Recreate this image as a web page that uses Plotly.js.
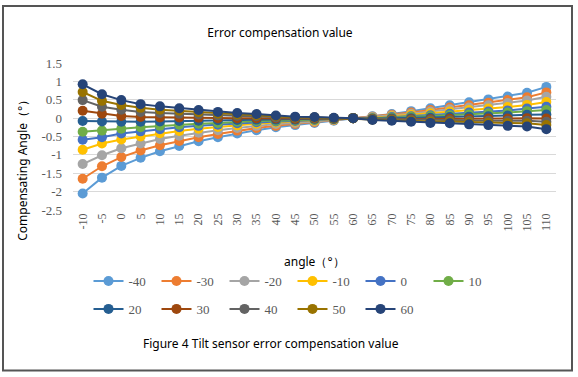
<!DOCTYPE html>
<html>
<head>
<meta charset="utf-8">
<script src="https://cdn.plot.ly/plotly-3.0.1.min.js"></script>
<style>html,body{margin:0;padding:0;background:#fff;}#chart{width:578px;height:377px;}</style>
</head>
<body>
<div id="chart"></div>
<script>
const angles = ["-10","-5","0","5","10","15","20","25","30","35","40","45","50","55","60","65","70","75","80","85","90","95","100","105","110"];
const seriesNames = ["-40","-30","-20","-10","0","10","20","30","40","50","60"];
const sM40 = [-2.05,-1.62,-1.30,-1.08,-0.90,-0.76,-0.63,-0.52,-0.42,-0.33,-0.25,-0.19,-0.13,-0.07,0,0.05,0.11,0.19,0.27,0.35,0.43,0.51,0.59,0.69,0.85];
const sM30 = [-1.65,-1.31,-1.06,-0.88,-0.74,-0.62,-0.52,-0.43,-0.34,-0.27,-0.21,-0.16,-0.11,-0.06,0,0.04,0.09,0.15,0.22,0.29,0.35,0.42,0.49,0.57,0.70];
const sM20 = [-1.25,-1.01,-0.82,-0.69,-0.57,-0.48,-0.40,-0.33,-0.27,-0.21,-0.16,-0.13,-0.09,-0.05,0,0.03,0.07,0.12,0.18,0.24,0.29,0.35,0.41,0.48,0.58];
const sM10 = [-0.86,-0.69,-0.58,-0.50,-0.41,-0.35,-0.29,-0.24,-0.20,-0.15,-0.12,-0.10,-0.07,-0.04,0,0.01,0.05,0.09,0.13,0.18,0.22,0.26,0.30,0.36,0.44];
const s0 = [-0.59,-0.52,-0.42,-0.36,-0.30,-0.25,-0.21,-0.18,-0.14,-0.11,-0.09,-0.08,-0.05,-0.03,0,0.00,0.03,0.05,0.08,0.12,0.15,0.18,0.21,0.26,0.31];
const s10 = [-0.37,-0.34,-0.29,-0.25,-0.21,-0.18,-0.15,-0.13,-0.10,-0.08,-0.07,-0.06,-0.04,-0.02,0,-0.01,0.01,0.03,0.05,0.08,0.10,0.13,0.15,0.19,0.22];
const s20 = [-0.08,-0.09,-0.10,-0.10,-0.09,-0.08,-0.07,-0.06,-0.05,-0.04,-0.04,-0.04,-0.02,-0.02,0,-0.02,-0.01,0.00,0.01,0.03,0.04,0.05,0.07,0.09,0.10];
const s30 = [0.20,0.12,0.06,0.03,0.02,0.02,0.01,0.00,0.00,0.00,-0.01,-0.02,-0.01,-0.01,0,-0.03,-0.03,-0.03,-0.03,-0.02,-0.02,-0.01,-0.01,0.00,-0.01];
const s40 = [0.49,0.31,0.23,0.17,0.14,0.12,0.10,0.07,0.06,0.05,0.02,0.01,0.01,0.00,0,-0.03,-0.04,-0.05,-0.06,-0.06,-0.07,-0.07,-0.07,-0.07,-0.10];
const s50 = [0.71,0.47,0.36,0.28,0.23,0.20,0.16,0.12,0.10,0.08,0.05,0.02,0.02,0.00,0,-0.04,-0.05,-0.07,-0.09,-0.09,-0.11,-0.12,-0.13,-0.14,-0.19];
const s60 = [0.92,0.65,0.49,0.38,0.32,0.27,0.22,0.17,0.14,0.11,0.07,0.04,0.03,0.01,0,-0.05,-0.07,-0.10,-0.13,-0.14,-0.17,-0.19,-0.21,-0.23,-0.30];
const allSeries = [sM40,sM30,sM20,sM10,s0,s10,s20,s30,s40,s50,s60];
const colors = ["#5B9BD5","#ED7D31","#A5A5A5","#FFC000","#4472C4","#70AD47","#255E91","#9E480E","#636363","#997300","#264478"];

const traces = allSeries.map((vals, i) => ({
  type: "scatter",
  mode: "lines+markers",
  name: seriesNames[i],
  x: angles,
  y: vals,
  line: {color: colors[i], width: 2},
  marker: {color: colors[i], size: 10},
  legend: i < 6 ? "legend" : "legend2"
}));

const L = 73, R = 22, T = 62.5, B = 166.5;
const W = 578 - L - R, H = 377 - T - B;
const px = v => (v - L) / W;
const py = v => (377 - B - v) / H;

const legendCommon = {
  orientation: "h",
  xanchor: "left",
  yanchor: "top",
  font: {family: "Liberation Serif", size: 13, color: "#595959"},
  entrywidth: 23,
  entrywidthmode: "pixels",
  itemwidth: 30,
  bgcolor: "rgba(0,0,0,0)",
  traceorder: "normal"
};

const layout = {
  width: 578,
  height: 377,
  margin: {l: L, r: R, t: T, b: B, pad: 0},
  paper_bgcolor: "#ffffff",
  plot_bgcolor: "#ffffff",
  showlegend: true,
  title: {
    text: "Error compensation value",
    font: {family: "Noto Sans", size: 12, color: "#000000"},
    x: 280/578, xref: "container", xanchor: "center", y: 1 - 33/377, yref: "container", yanchor: "middle"
  },
  xaxis: {
    type: "category",
    tickangle: -90,
    tickfont: {family: "Liberation Serif", size: 12, color: "#595959"},
    showgrid: false,
    showline: false,
    ticks: "",
    range: [-0.5, 24.5],
    fixedrange: true
  },
  yaxis: {
    range: [-2.5, 1.5],
    tickvals: [-2.5,-2,-1.5,-1,-0.5,0,0.5,1,1.5],
    ticktext: ["-2.5","-2","-1.5","-1","-0.5","0","0.5","1","1.5"],
    tickfont: {family: "Liberation Serif", size: 13, color: "#595959"},
    gridcolor: "#D9D9D9",
    gridwidth: 1,
    zeroline: true,
    zerolinecolor: "#D9D9D9",
    zerolinewidth: 1,
    showline: false,
    ticks: "",
    ticklabelstandoff: 10,
    fixedrange: true
  },
  legend: Object.assign({}, legendCommon, {x: px(88.5), y: py(267)}),
  legend2: Object.assign({}, legendCommon, {x: px(88.5), y: py(295)}),
  annotations: [
    {text: "angle（°）", xref: "paper", yref: "paper", x: 0.5, y: py(262), showarrow: false,
     font: {family: "Noto Sans", size: 12, color: "#000000"}, xanchor: "center", yanchor: "middle"},
    {text: "Compensating Angle（°）", xref: "paper", yref: "paper", x: px(23), y: py(168), showarrow: false,
     textangle: -90, font: {family: "Noto Sans", size: 12, color: "#000000"}, xanchor: "center", yanchor: "middle"},
    {text: "Figure 4 Tilt sensor error compensation value", xref: "paper", yref: "paper", x: px(271), y: py(345), showarrow: false,
     font: {family: "Noto Sans", size: 12, color: "#000000"}, xanchor: "center", yanchor: "middle"}
  ],
  shapes: [
    {type: "rect", xref: "paper", yref: "paper", x0: px(3), x1: px(572), y0: py(372), y1: py(5),
     line: {color: "#555555", width: 2}, fillcolor: "rgba(0,0,0,0)", layer: "below"}
  ]
};

Plotly.newPlot("chart", traces, layout, {staticPlot: true, displayModeBar: false});
</script>
</body>
</html>
